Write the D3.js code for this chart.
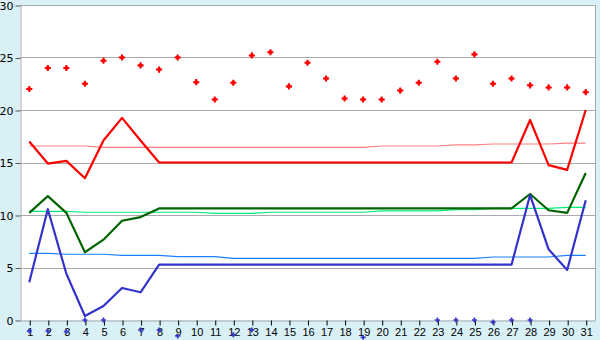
<!DOCTYPE html>
<html>
<head>
<meta charset="utf-8">
<script src="https://cdn.jsdelivr.net/npm/d3@7"></script>
<style>
  html, body { margin: 0; padding: 0; background: #d9f0f7; }
  svg { display: block; }
</style>
</head>
<body>
<svg id="chart" width="600" height="340"></svg>
<script>
const days = d3.range(1, 32);
const yTicks = [0, 5, 10, 15, 20, 25, 30];

const redDots = [22, 24, 24, 22.5, 24.7, 25, 24.25, 23.85, 25, 22.65, 21, 22.6, 25.2, 25.5, 22.25, 24.5,
  23, 21.1, 21, 21, 21.85, 22.6, 24.6, 23, 25.3, 22.5, 23, 22.35, 22.15, 22.15, 21.7];
const redLine = [17, 14.9, 15.15, 13.5, 17.1, 19.25, 17.1, 15, 15, 15, 15, 15, 15, 15, 15, 15,
  15, 15, 15, 15, 15, 15, 15, 15, 15, 15, 15, 19.05, 14.75, 14.3, 20];
const pinkLine = [16.57, 16.57, 16.57, 16.57, 16.45, 16.45, 16.45, 16.45, 16.45, 16.45, 16.45, 16.45,
  16.45, 16.45, 16.45, 16.45, 16.45, 16.45, 16.45, 16.57, 16.57, 16.57, 16.57, 16.67, 16.67, 16.76,
  16.76, 16.76, 16.76, 16.85, 16.85];
const greenLine = [10.2, 11.8, 10.2, 6.45, 7.65, 9.45, 9.8, 10.63, 10.63, 10.63, 10.63, 10.63, 10.63,
  10.63, 10.63, 10.63, 10.63, 10.63, 10.63, 10.63, 10.63, 10.63, 10.63, 10.63, 10.63, 10.63, 10.63,
  12.0, 10.45, 10.2, 14.0];
const lightGreenLine = [10.35, 10.35, 10.35, 10.26, 10.26, 10.26, 10.26, 10.26, 10.26, 10.26, 10.16,
  10.16, 10.16, 10.26, 10.26, 10.26, 10.26, 10.26, 10.26, 10.4, 10.4, 10.4, 10.4, 10.5, 10.5, 10.63,
  10.63, 10.63, 10.63, 10.73, 10.73];
const blueLine = [3.6, 10.55, 4.4, 0.38, 1.33, 3.05, 2.64, 5.27, 5.27, 5.27, 5.27, 5.27, 5.27, 5.27,
  5.27, 5.27, 5.27, 5.27, 5.27, 5.27, 5.27, 5.27, 5.27, 5.27, 5.27, 5.27, 5.27, 11.9, 6.73, 4.76, 11.4];
const lightBlueLine = [6.35, 6.35, 6.26, 6.26, 6.26, 6.16, 6.16, 6.16, 6.03, 6.03, 6.03, 5.87, 5.87,
  5.87, 5.87, 5.87, 5.87, 5.87, 5.87, 5.87, 5.87, 5.87, 5.87, 5.87, 5.87, 6.0, 6.0, 6.0, 6.0, 6.16, 6.16];
const blueDots = [-1.05, -1.05, -1.1, 0, 0, null, -0.95, -0.95, -1.52, null, null, -1.4, -0.95, null,
  null, null, null, null, -1.65, null, null, null, 0, 0, 0, -0.2, 0, 0, null, null, null];

const svg = d3.select("#chart");
const L = 20, R = 595, T = 5, B = 320;

const x = d3.scalePoint().domain(days).range([L, R]).padding(0.5);
const y = d3.scaleLinear().domain([0, 30]).range([B, T]);

// plot background
svg.append("rect").attr("x", L).attr("y", T).attr("width", R - L).attr("height", B - T).attr("fill", "#fff");

// gridlines
svg.append("g").selectAll("line").data(yTicks.filter(d => d > 0)).join("line")
  .attr("x1", L).attr("x2", R)
  .attr("y1", d => Math.round(y(d)) + 0.5).attr("y2", d => Math.round(y(d)) + 0.5)
  .attr("stroke", "#aaaaaa").attr("stroke-width", 1);

// right border
svg.append("line").attr("x1", R + 0.5).attr("x2", R + 0.5).attr("y1", T).attr("y2", B)
  .attr("stroke", "#aaaaaa");

// y axis
const yAxis = svg.append("g").attr("transform", `translate(${L + 0.5},0.5)`)
  .call(d3.axisLeft(y).tickValues(yTicks).tickSize(5).tickSizeOuter(0).tickPadding(2));
yAxis.select(".domain").attr("stroke", "#aaaaaa");
yAxis.selectAll(".tick line").attr("stroke", "#555");
yAxis.selectAll("text").attr("font-family", "DejaVu Sans, sans-serif").attr("font-size", 11).attr("fill", "#000");

// x axis
const xAxis = svg.append("g").attr("transform", `translate(0.5,${B + 0.5})`)
  .call(d3.axisBottom(x).tickSize(5).tickSizeOuter(0).tickPadding(3));
xAxis.select(".domain").attr("stroke", "#aaaaaa");
xAxis.selectAll(".tick line").attr("stroke", "#000");
xAxis.selectAll("text").attr("font-family", "Liberation Sans, Arial, sans-serif").attr("font-size", 11).attr("fill", "#000");

const line = d3.line().x((d, i) => x(days[i])).y(d => y(d));

const thin = [
  [pinkLine, "#ff8080"],
  [lightGreenLine, "#00ee77"],
  [lightBlueLine, "#1a80ff"]
];
thin.forEach(([data, color]) => {
  svg.append("path").datum(data).attr("d", line).attr("fill", "none")
    .attr("stroke", color).attr("stroke-width", 1.2);
});

const thick = [
  [redLine, "#ff0000"],
  [greenLine, "#006400"],
  [blueLine, "#3333cc"]
];
thick.forEach(([data, color]) => {
  svg.append("path").datum(data).attr("d", line).attr("fill", "none")
    .attr("stroke", color).attr("stroke-width", 2.2).attr("stroke-linejoin", "round");
});

// red markers (bold plus)
const redG = svg.append("g").selectAll("g").data(redDots).join("g")
  .attr("transform", (d, i) => `translate(${x(days[i])},${y(d)})`)
  .attr("fill", "#ff0000");
redG.append("path").attr("d", d3.symbol(d3.symbolCross, 21));
redG.append("path").attr("d", d3.symbol(d3.symbolSquare, 10));

// blue markers
svg.append("g").selectAll("path").data(days.filter((d, i) => blueDots[i] !== null)).join("path")
  .attr("d", d3.symbol(d3.symbolCross, 14))
  .attr("transform", d => `translate(${x(d)},${y(blueDots[d - 1])})`)
  .attr("fill", "#3333cc");
</script>
</body>
</html>
